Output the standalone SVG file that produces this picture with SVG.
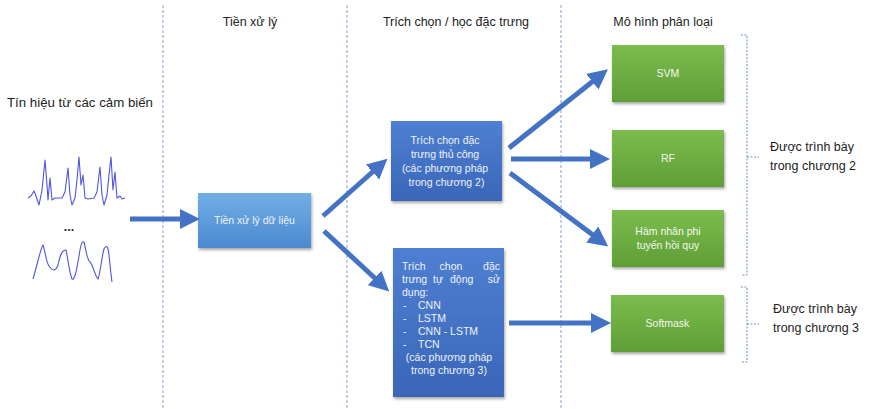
<svg xmlns="http://www.w3.org/2000/svg" width="872" height="409" viewBox="0 0 872 409">
<style>
.hdr{font-family:"Liberation Sans",Arial,sans-serif;font-size:12.5px;fill:#222}
.bx{font-family:"Liberation Sans",Arial,sans-serif;font-size:10.5px;fill:#eef2fa}
.gx{font-family:"Liberation Sans",Arial,sans-serif;font-size:10.5px;fill:#f3f8ee}
.side{font-family:"Liberation Sans",Arial,sans-serif;font-size:12.5px;fill:#222}
.div{stroke:#8aa4cc;stroke-width:1;stroke-dasharray:3,2;fill:none}
.brk{stroke:#6a8cc0;stroke-width:1;stroke-dasharray:2,1.5;fill:none}
.conn{stroke:#4472c4;stroke-width:5;fill:none}
.sig{stroke:#5054e0;stroke-width:1.1;fill:none;stroke-linejoin:round}
</style>
<defs>
<marker id="ah" markerWidth="4" markerHeight="4" refX="1.2" refY="2" orient="auto" markerUnits="strokeWidth">
<path d="M0,0 L4,2 L0,4 Z" fill="#4472c4"/>
</marker>
<linearGradient id="gLight" x1="0" y1="0" x2="0" y2="1"><stop offset="0" stop-color="#72aee6"/><stop offset="1" stop-color="#4c8ad0"/></linearGradient>
<linearGradient id="gBlue" x1="0" y1="0" x2="0" y2="1"><stop offset="0" stop-color="#4f7fd2"/><stop offset="1" stop-color="#3a66b8"/></linearGradient>
<linearGradient id="gGreen" x1="0" y1="0" x2="0" y2="1"><stop offset="0" stop-color="#7cbc4e"/><stop offset="1" stop-color="#5f9e36"/></linearGradient>
<filter id="sh" x="-10%" y="-10%" width="125%" height="130%"><feDropShadow dx="1" dy="2" stdDeviation="1.5" flood-color="#000" flood-opacity="0.35"/></filter>
</defs>

<g id="dividers">
<line class="div" x1="163" y1="5" x2="163" y2="409"/>
<line class="div" x1="347" y1="5" x2="347" y2="409"/>
<line class="div" x1="561" y1="5" x2="561" y2="409"/>
</g>

<g id="headers">
<text class="hdr" x="250" y="26" text-anchor="middle">Tiền xử lý</text>
<text class="hdr" x="456" y="26" text-anchor="middle">Trích chọn / học đặc trưng</text>
<text class="hdr" x="663" y="26" text-anchor="middle">Mô hình phân loại</text>
</g>

<g id="sensors">
<text class="hdr" x="7" y="107" textLength="146" lengthAdjust="spacingAndGlyphs">Tín hiệu từ các cảm biến</text>
<path class="sig" d="M28,198 L31,196 L34,191 L36,196 L39,205 L42,190 L45,160 L47,185 L48,200 L50,178 L52,200 L55,198 L62,198 L65,192 L68,168 L70,195 L72,205 L75,198 L77,180 L79,157 L81,185 L83,175 L85,198 L88,199 L94,198 L97,192 L100,167 L102,195 L104,205 L107,195 L109,175 L111,157 L113,190 L115,172 L117,198 L120,196 L122,199 L125,198"/>
<text class="hdr" x="69" y="231" text-anchor="middle" font-weight="bold">...</text>
<path class="sig" d="M33,279 C36,270 40,250 43,245 C45,250 46,262 49,266 C52,270 55,273 58,265 C60,255 62,250 66,250 C68,258 69,272 72,279 C75,282 78,262 80,250 C81,244 82,241 84,242 C86,250 87,260 90,262 C93,265 95,276 98,279 C100,275 102,255 104,249 C106,245 108,245 109,255 C110,265 111,275 112,282"/>
</g>

<g id="n_pre">
<rect x="198" y="193" width="113" height="55" fill="url(#gLight)" filter="url(#sh)"/>
<text class="bx" x="254.5" y="224" text-anchor="middle">Tiền xử lý dữ liệu</text>
</g>

<g id="n_manual">
<rect x="391" y="121" width="111" height="80" fill="url(#gBlue)" filter="url(#sh)"/>
<text class="bx" text-anchor="middle">
<tspan x="446.5" y="144">Trích chọn đặc</tspan>
<tspan x="446.5" y="158">trưng thủ công</tspan>
<tspan x="446.5" y="172">(các phương pháp</tspan>
<tspan x="446.5" y="186">trong chương 2)</tspan>
</text>
</g>

<g id="n_auto">
<rect x="393" y="248" width="111" height="149" fill="url(#gBlue)" filter="url(#sh)"/>
<text class="bx" x="402" y="270">Trích</text>
<text class="bx" x="451" y="270" text-anchor="middle">chọn</text>
<text class="bx" x="500" y="270" text-anchor="end">đặc</text>
<text class="bx" x="402" y="283">trưng</text>
<text class="bx" x="433" y="283">tự</text>
<text class="bx" x="450" y="283">động</text>
<text class="bx" x="500" y="283" text-anchor="end">sử</text>
<text class="bx" x="402" y="296">dụng:</text>
<text class="bx" x="403" y="309">-</text><text class="bx" x="418" y="309">CNN</text>
<text class="bx" x="403" y="322">-</text><text class="bx" x="418" y="322">LSTM</text>
<text class="bx" x="403" y="335">-</text><text class="bx" x="418" y="335">CNN - LSTM</text>
<text class="bx" x="403" y="348">-</text><text class="bx" x="418" y="348">TCN</text>
<text class="bx" x="449" y="361" text-anchor="middle">(các phương pháp</text>
<text class="bx" x="449" y="374" text-anchor="middle">trong chương 3)</text>
</g>

<g id="n_svm">
<rect x="612" y="45" width="112" height="57" fill="url(#gGreen)" filter="url(#sh)"/>
<text class="gx" x="668" y="77" text-anchor="middle">SVM</text>
</g>
<g id="n_rf">
<rect x="612" y="130" width="112" height="57" fill="url(#gGreen)" filter="url(#sh)"/>
<text class="gx" x="668" y="162" text-anchor="middle">RF</text>
</g>
<g id="n_kernel">
<rect x="612" y="210" width="112" height="57" fill="url(#gGreen)" filter="url(#sh)"/>
<text class="gx" text-anchor="middle"><tspan x="668" y="235">Hàm nhân phi</tspan><tspan x="668" y="249">tuyến hồi quy</tspan></text>
</g>
<g id="n_softmask">
<rect x="611" y="295" width="113" height="57" fill="url(#gGreen)" filter="url(#sh)"/>
<text class="gx" x="667.5" y="327" text-anchor="middle">Softmask</text>
</g>

<g id="connectors">
<line class="conn" x1="130" y1="219" x2="186" y2="219" marker-end="url(#ah)"/>
<line class="conn" x1="323" y1="216" x2="377" y2="168" marker-end="url(#ah)"/>
<line class="conn" x1="324" y1="231" x2="379" y2="282" marker-end="url(#ah)"/>
<line class="conn" x1="509" y1="148" x2="597" y2="78" marker-end="url(#ah)"/>
<line class="conn" x1="511" y1="159" x2="596" y2="159" marker-end="url(#ah)"/>
<line class="conn" x1="510" y1="173" x2="597" y2="238" marker-end="url(#ah)"/>
<line class="conn" x1="509" y1="323" x2="597" y2="323" marker-end="url(#ah)"/>
</g>

<g id="brackets">
<path class="brk" d="M741,35 L747,35 L747,275 L741,275 M747,157 L759,157"/>
<path class="brk" d="M741,287 L747,287 L747,362 L741,362 M747,324 L759,324"/>
<text class="side"><tspan x="770" y="151">Được trình bày</tspan><tspan x="770" y="170">trong chương 2</tspan></text>
<text class="side"><tspan x="773" y="313">Được trình bày</tspan><tspan x="773" y="332">trong chương 3</tspan></text>
</g>
</svg>
